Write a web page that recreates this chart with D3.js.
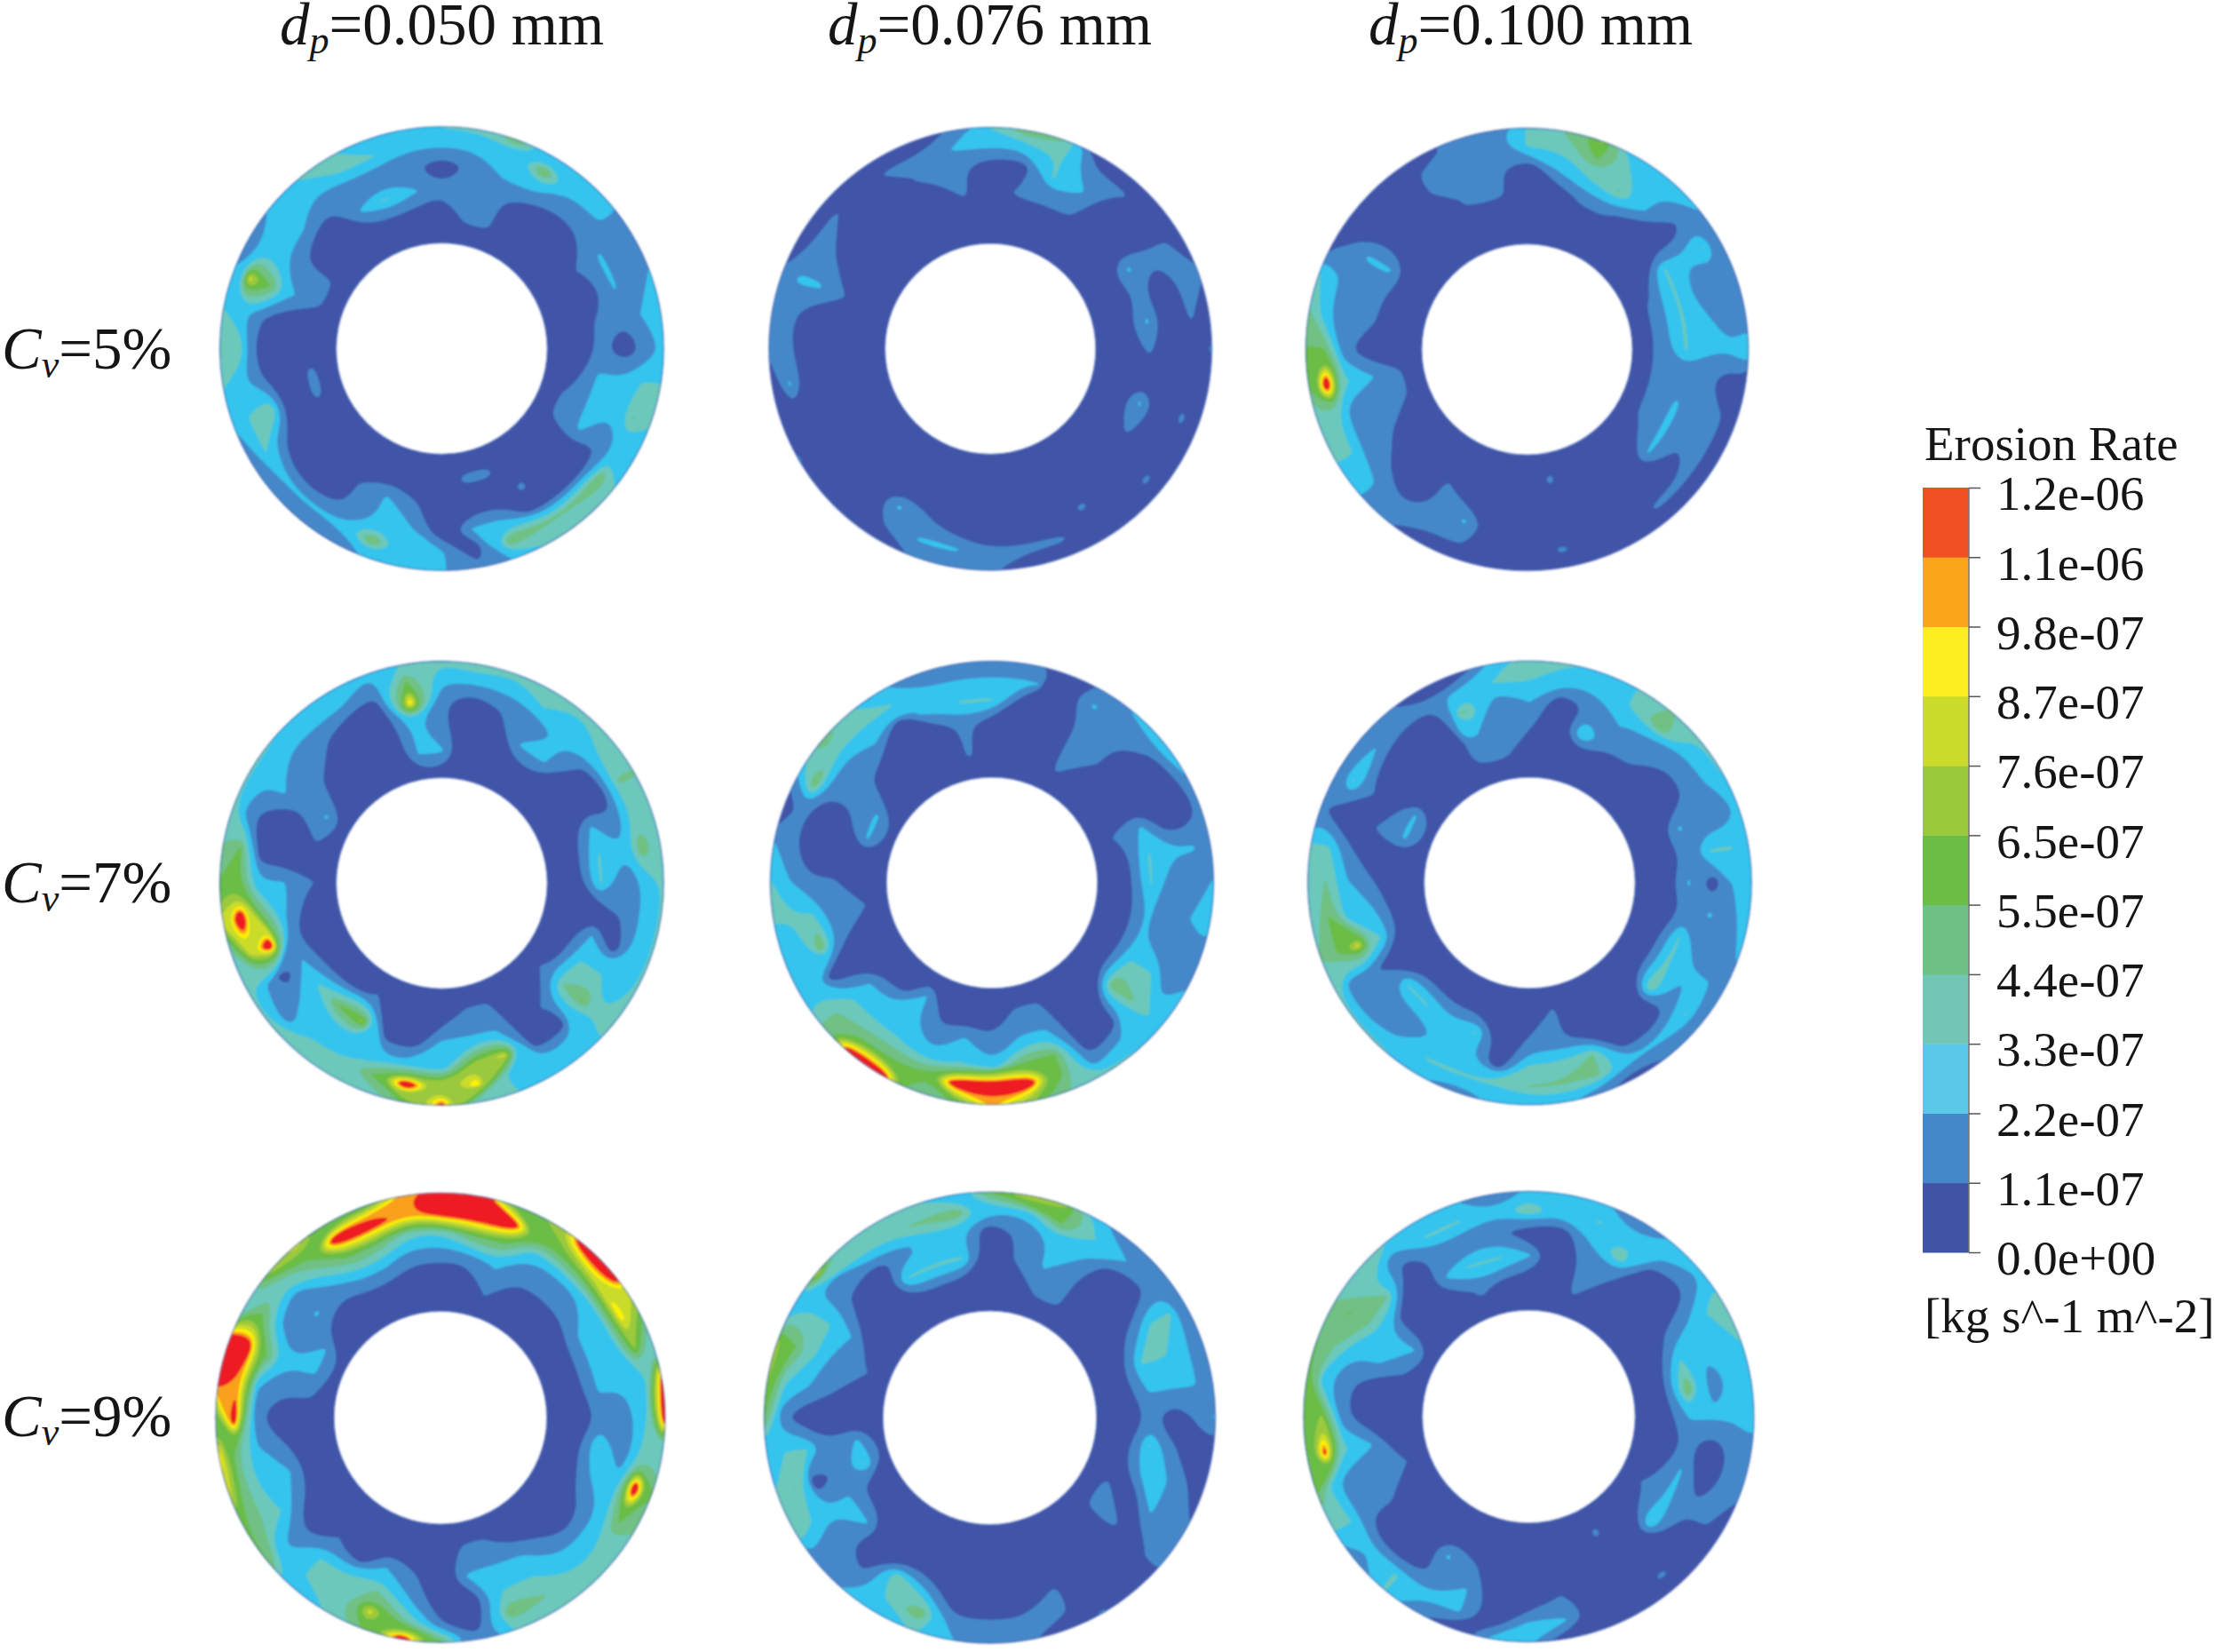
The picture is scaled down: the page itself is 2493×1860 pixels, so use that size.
<!DOCTYPE html>
<html><head><meta charset="utf-8">
<script src="https://cdnjs.cloudflare.com/ajax/libs/d3/7.8.5/d3.min.js"></script>
<style>html,body{margin:0;background:#fff}svg{display:block}text{font-family:"Liberation Serif",serif;fill:#151515}</style>
</head><body><svg id="c" width="2493" height="1860"></svg>
<script>
// Radial profiles: one string per 10 degrees clockwise from the top,
// each holding the legend band index at six radii, outer rim to inner rim (a = top band).
const c5_d050=["320100","321110","522110","252000","221000","221000","112100","212000","321100","210100","332200","342210","221210","350000","340000","340100","252010","102010","220000","322100","252200","121100","120000","120000","131000","234010","321010","340000","321000","275210","122110","222000","321000","331200","231300","221200"];
const c5_d076=["320000","520100","433100","012100","010000","000000","011200","110100","010200","100100","000000","010200","000100","010000","000000","001000","010000","010000","110000","120000","121000","012000","000000","000000","100000","000000","020000","110000","110000","122100","011000","010000","000000","010000","011000","121100"];
const c5_d100=["330000","432000","653100","234100","222000","210000","132300","111310","112310","322310","001110","011210","011210","010200","010000","000000","000000","010010","000000","000000","012000","011100","110000","221000","331100","331110","5a3210","551000","421100","321100","012200","000000","000000","011000","111100","111100"];
const c7_d050=["321120","420000","321000","331200","322200","331000","440000","331200","352300","321300","321000","320200","323300","435410","220100","220000","327210","386210","962200","5a2000","352000","332610","332500","312300","320200","37a100","7a5200","552210","450000","310010","322120","321100","221000","220000","210000","358220"];
const c7_d076=["123000","120000","000000","121110","211100","310000","200000","100210","122300","211300","321200","111200","213300","234500","320000","310000","455210","6a5210","8a2100","5a3200","452100","a53220","a53200","443200","220000","225100","333110","321100","210000","010020","251120","531100","332000","230000","122000","123110"];
const c7_d100=["432100","320000","221300","332100","451100","321000","321000","211200","233100","220200","312100","211300","122300","131400","120000","020000","144000","243110","243100","230000","132300","232200","321300","311300","311000","457300","352200","342100","331000","100120","131020","120000","110000","010000","024210","231110"];
const c9_d050=["aa3100","aa5100","5a5210","652100","a62100","a72100","682200","362200","922200","a31100","331300","5a2200","452100","332000","332100","343200","353210","100210","510000","a42100","574200","333000","233100","521000","543100","742200","842100","5a1000","a82110","aa5220","352120","631200","753100","5a5200","5a5200","883100"];
const c9_d076=["520000","721100","652210","232110","120000","110000","133100","123300","122200","210100","001300","012200","112010","110110","000000","100000","011000","110000","110000","210000","352000","234000","210000","111200","432200","340130","233120","510000","632100","653110","233200","711000","330000","331300","342300","252300"];
const c9_d100=["240200","220000","232110","124100","220000","210000","432100","322300","221500","322200","110100","110200","011210","000300","010000","000010","000000","021000","220000","200000","022100","121200","330000","120000","331100","521110","593200","561000","521000","542210","454220","334000","310000","231200","231310","121300"];

const columnLabels=["0.050","0.076","0.100"];
const rowLabels=["5","7","9"];
const tickLabels=["0.0e+00","1.1e-07","2.2e-07","3.3e-07","4.4e-07","5.5e-07","6.5e-07","7.6e-07","8.7e-07","9.8e-07","1.1e-06","1.2e-06"];
const legendColors=["#3f54a5","#4488c9","#5bc8e8","#72c6b6","#6fc183","#6abd45","#9bc93c","#cbdb2a","#fdee21","#fba51a","#f04e23"];
const ringColors=["#3f55a8","#4488c9","#35c4ee","#6cc8bb","#6fc183","#6abd45","#9bc93c","#cbdb2a","#fff200","#f9a01b","#ee1c24"];
const radialStops=[1,.846,.667,.462,.231,0];
const levels=[.8,1.85,2.9,3.9,4.9,5.8,6.6,7.4,8,8.5];

const svg=d3.select("#c");
const defs=svg.append("defs");
defs.append("filter").attr("id","soft").attr("x","-5%").attr("y","-5%").attr("width","110%").attr("height","110%")
  .append("feGaussianBlur").attr("stdDeviation",1.3);

const rings=[
 {p:c5_d050,cx:497.4,cy:392.5,R:249.8,r:119},{p:c5_d076,cx:1115.2,cy:392.8,R:249.3,r:118.8},{p:c5_d100,cx:1719.5,cy:393.4,R:249,r:118.8},
 {p:c7_d050,cx:497.4,cy:994.4,R:249.8,r:119},{p:c7_d076,cx:1117,cy:994,R:249.5,r:119},{p:c7_d100,cx:1722.4,cy:994,R:249.8,r:119},
 {p:c9_d050,cx:495.9,cy:1596.2,R:253,r:120},{p:c9_d076,cx:1114.5,cy:1596.2,R:254,r:120.5},{p:c9_d100,cx:1721.4,cy:1595,R:253.5,r:120}];

const WRAP=2, NA=36, NR=6;
const angle=d3.scaleLinear().domain([0,NA]).range([0,2*Math.PI]);
const radial=d3.scaleLinear().domain(radialStops.map((_,i)=>i)).range(radialStops);
const contours=d3.contours().size([NA+2*WRAP,NR]).smooth(true).thresholds(levels);
const line=d3.line().curve(d3.curveBasisClosed);

rings.forEach((g,idx)=>{
  const values=[];
  for(let j=0;j<NR;j++) for(let i=-WRAP;i<NA+WRAP;i++){
    values.push(parseInt(g.p[(i+NA)%NA][j],16));
  }
  const rad=d3.scaleLinear().domain([0,1]).range([g.r,g.R]);
  const toXY=([x,y])=>{
    const a=angle(x-.5-WRAP), q=rad(radial(y-.5));
    return [g.cx+q*Math.sin(a),g.cy-q*Math.cos(a)];
  };
  const shape=c=>c.coordinates.flat().map(ring=>line(ring.slice(0,-1).map(toXY))).join("");
  const arc=d3.arc().innerRadius(g.r).outerRadius(g.R).startAngle(0).endAngle(2*Math.PI);
  defs.append("clipPath").attr("id","clip"+idx).append("path")
    .attr("d",arc()).attr("transform",`translate(${g.cx},${g.cy})`);
  const outer=svg.append("g").attr("filter","url(#soft)");
  const inner=outer.append("g").attr("clip-path",`url(#clip${idx})`);
  inner.append("path").attr("d",arc()).attr("transform",`translate(${g.cx},${g.cy})`).attr("fill",ringColors[0]);
  inner.selectAll("path.band").data(contours(values)).join("path").attr("class","band")
    .attr("d",shape).attr("fill",(d,i)=>ringColors[i+1]);
  outer.append("path").attr("d",arc()).attr("transform",`translate(${g.cx},${g.cy})`)
    .attr("fill","none").attr("stroke","#2c49a3").attr("stroke-width",1.6).attr("stroke-opacity",.5);
});

// column and row headings
const colX=[315,932,1541];
columnLabels.forEach((v,i)=>{
  const t=svg.append("text").attr("x",colX[i]).attr("y",50).attr("font-size",67);
  t.append("tspan").attr("font-style","italic").text("d");
  t.append("tspan").attr("font-style","italic").attr("font-size",44).attr("dy",10).text("p");
  t.append("tspan").attr("dy",-10).text(`=${v} mm`);
});
const rowY=[415,1016,1617];
rowLabels.forEach((v,i)=>{
  const t=svg.append("text").attr("x",2).attr("y",rowY[i]).attr("font-size",67);
  t.append("tspan").attr("font-style","italic").text("C");
  t.append("tspan").attr("font-style","italic").attr("font-size",44).attr("dy",10).text("v");
  t.append("tspan").attr("dy",-10).text(`=${v}%`);
});

// legend
const y=d3.scalePoint().domain(tickLabels).range([1410,549]);
const barX=2165, barW=52;
svg.append("g").selectAll("rect").data(legendColors).join("rect")
  .attr("x",barX).attr("width",barW)
  .attr("y",(d,i)=>y(tickLabels[i+1])).attr("height",(d,i)=>y(tickLabels[i])-y(tickLabels[i+1])+.5)
  .attr("fill",d=>d);
const ax=svg.append("g").attr("transform",`translate(${barX+barW},0)`)
  .call(d3.axisRight(y).tickSize(13).tickPadding(18));
ax.select(".domain").attr("stroke","#777").attr("stroke-width",1.5).attr("d","M0,549V1410");
ax.selectAll(".tick line").attr("stroke","#555").attr("stroke-width",1.5);
ax.selectAll(".tick text").attr("font-size",55).attr("font-family",'"Liberation Serif",serif').attr("dy",".45em").attr("fill","#222");
svg.append("text").attr("x",2167).attr("y",518).attr("font-size",55).attr("fill","#222").text("Erosion Rate");
svg.append("text").attr("x",2167).attr("y",1500).attr("font-size",55).attr("fill","#222").text("[kg s^-1 m^-2]");
</script></body></html>
